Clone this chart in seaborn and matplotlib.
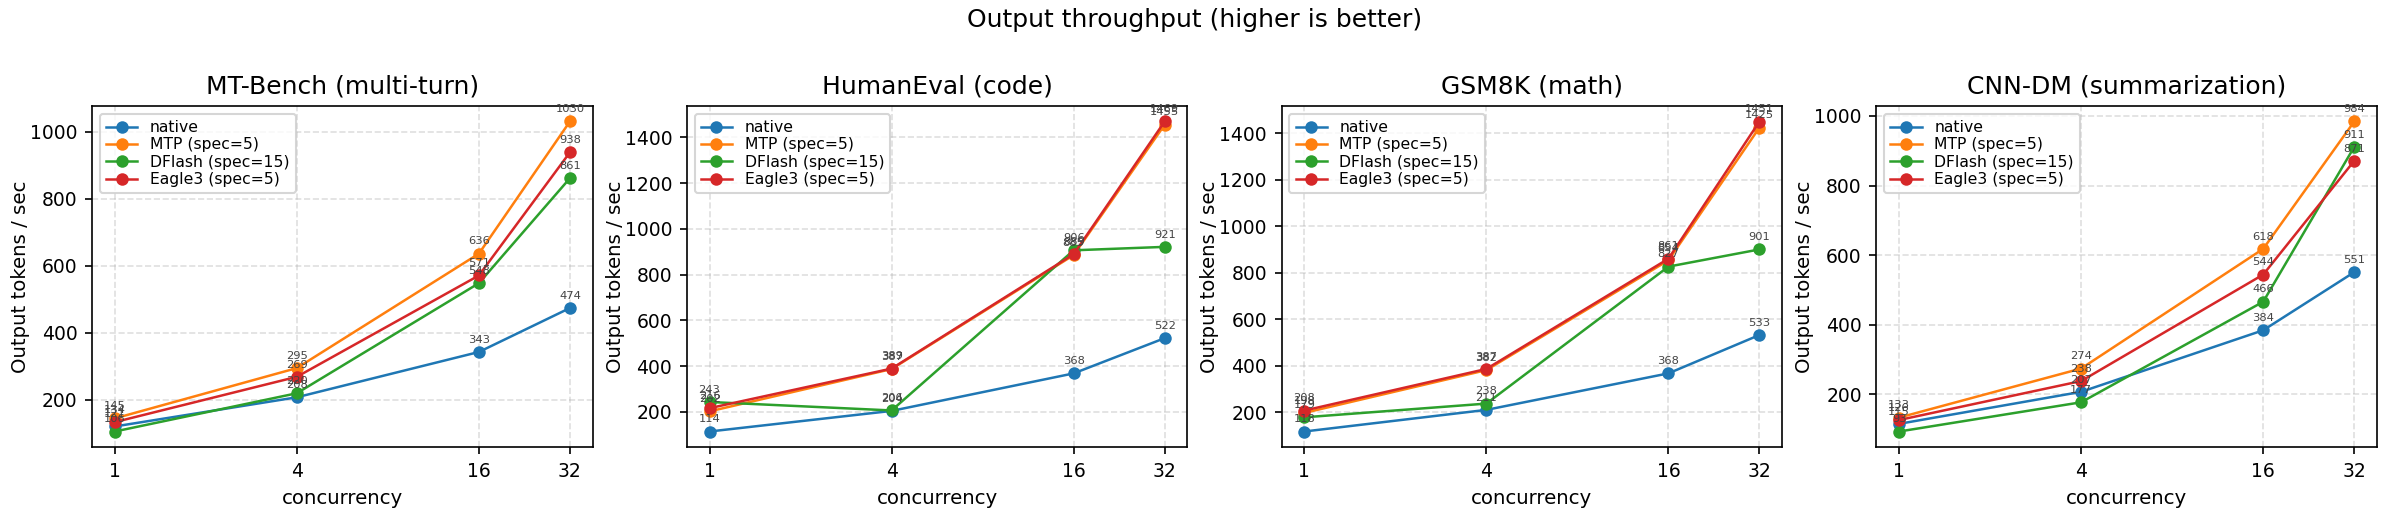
import numpy as np
import pandas as pd
import matplotlib
matplotlib.use("Agg")
import matplotlib.pyplot as plt
import seaborn as sns

concurrency = [1, 4, 16, 32]
methods = ["native", "MTP (spec=5)", "DFlash (spec=15)", "Eagle3 (spec=5)"]
benchmarks = ["MT-Bench (multi-turn)", "HumanEval (code)", "GSM8K (math)", "CNN-DM (summarization)"]

mtbench_native = [121, 208, 343, 474]
mtbench_mtp = [145, 295, 636, 1030]
mtbench_dflash = [106, 220, 548, 861]
mtbench_eagle3 = [134, 269, 571, 938]

humaneval_native = [114, 204, 368, 522]
humaneval_mtp = [202, 387, 885, 1455]
humaneval_dflash = [243, 206, 906, 921]
humaneval_eagle3 = [216, 389, 889, 1469]

gsm8k_native = [118, 211, 368, 533]
gsm8k_mtp = [198, 382, 854, 1425]
gsm8k_dflash = [179, 238, 827, 901]
gsm8k_eagle3 = [208, 387, 861, 1451]

cnndm_native = [115, 207, 384, 551]
cnndm_mtp = [133, 274, 618, 984]
cnndm_dflash = [93, 177, 466, 911]
cnndm_eagle3 = [126, 238, 544, 871]

series = {
    "MT-Bench (multi-turn)": [mtbench_native, mtbench_mtp, mtbench_dflash, mtbench_eagle3],
    "HumanEval (code)": [humaneval_native, humaneval_mtp, humaneval_dflash, humaneval_eagle3],
    "GSM8K (math)": [gsm8k_native, gsm8k_mtp, gsm8k_dflash, gsm8k_eagle3],
    "CNN-DM (summarization)": [cnndm_native, cnndm_mtp, cnndm_dflash, cnndm_eagle3],
}
yticks = {
    "MT-Bench (multi-turn)": [200, 400, 600, 800, 1000],
    "HumanEval (code)": [200, 400, 600, 800, 1000, 1200, 1400],
    "GSM8K (math)": [200, 400, 600, 800, 1000, 1200, 1400],
    "CNN-DM (summarization)": [200, 400, 600, 800, 1000],
}

colors = ["#1f77b4", "#ff7f0e", "#2ca02c", "#d62728"]

W, H, DPI = 2389, 522, 150
fig, axes = plt.subplots(1, 4, figsize=(W / DPI, H / DPI), dpi=DPI)
fig.subplots_adjust(left=92 / W, right=2377 / W, bottom=1 - 447 / H, top=1 - 106 / H, wspace=0.188)

for ax, bench in zip(axes, benchmarks):
    rows = []
    for m, vals in zip(methods, series[bench]):
        for c, v in zip(concurrency, vals):
            rows.append({"concurrency": c, "tps": v, "method": m})
    df = pd.DataFrame(rows)
    sns.lineplot(data=df, x="concurrency", y="tps", hue="method", hue_order=methods,
                 palette=colors, marker="o", markersize=6, markeredgewidth=0,
                 linewidth=1.2, errorbar=None, legend=False, ax=ax)
    for m, vals in zip(methods, series[bench]):
        for c, v in zip(concurrency, vals):
            ax.annotate(f"{v:.0f}", (c, v), textcoords="offset points", xytext=(0, 3.5),
                        ha="center", va="bottom", fontsize=5.5, color="#444444")
    ax.set_xscale("log", base=2)
    ax.set_xticks(concurrency)
    ax.set_xticklabels([str(c) for c in concurrency])
    ax.minorticks_off()
    ax.set_yticks(yticks[bench])
    ax.tick_params(labelsize=9)
    ax.set_title(bench, fontsize=12)
    ax.set_xlabel("concurrency", fontsize=9.5)
    ax.set_ylabel("Output tokens / sec", fontsize=9.5, labelpad=0)
    ax.grid(True, linestyle="--", alpha=0.4)
    lines = ax.get_lines()[:4]
    ax.legend(lines, methods, loc="upper left", fontsize=7.5, labelspacing=0.15)

fig.suptitle("Output throughput (higher is better)", fontsize=12, y=0.985)
fig.savefig("out.png", dpi=DPI)
